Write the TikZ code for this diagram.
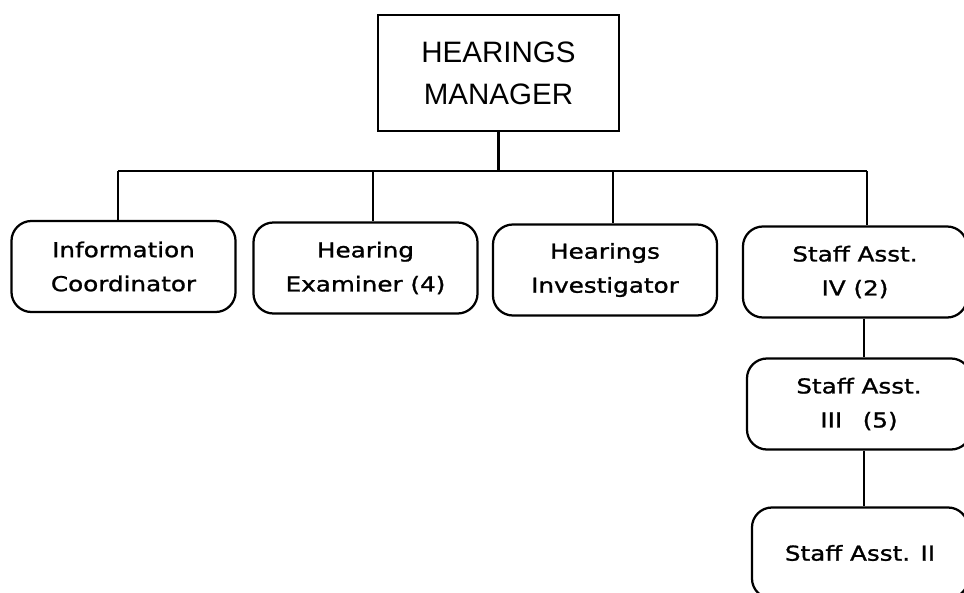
\documentclass[tikz,border=0pt]{standalone}
\usepackage{fontspec}
\setmainfont{Liberation Sans}
\newfontfamily\widefont[FakeStretch=1.2, FakeBold=1.2]{DejaVu Sans}
\begin{document}
\begin{tikzpicture}[x=0.025cm, y=-0.025cm, line width=1.6pt,
                  chef/.style={draw, minimum width=6.025cm, minimum height=2.9cm,
                               align=center, font=\fontsize{21}{30}\selectfont},
                  poste/.style={draw, rounded corners=0.5cm, minimum width=5.6cm,
                                minimum height=2.275cm, align=center,
                                font=\widefont\fontsize{14.6}{24.2}\selectfont}]
\useasboundingbox (0,0) rectangle (964,592);
\clip (0,0) rectangle (964,592);
\node[chef] (mgr) at (498.5,73) {HEARINGS\\MANAGER};
\node[poste] (info) at (123.5,266.5) {Information\\Coordinator};
\node[poste] (exam) at (365.5,268) {Hearing\\Examiner (4)};
\node[poste] (inv) at (605,270) {Hearings\\Investigator};
\node[poste] (iv) at (855,272) {Staff Asst.\\ IV (2)};
\node[poste] (iii) at (859,404) {Staff Asst.\\III\quad(5)};
\node[poste, minimum width=5.4cm] (ii) at (860,553) {Staff Asst. II};
% bus
\coordinate (bg) at (118,171);
\coordinate (bd) at (867,171);
\draw (bg) -- (bd);
\draw (mgr.south) -- (mgr.south |- bg);
\foreach \x/\n in {118/info, 373/exam, 613/inv, 867/iv}
   \draw (\x,171) -- (\x,171 |- \n.north);
% right column
\coordinate (col) at (864,0);
\draw (iv.south -| col) -- (iii.north -| col);
\draw (iii.south -| col) -- (ii.north -| col);
\end{tikzpicture}
\end{document}
